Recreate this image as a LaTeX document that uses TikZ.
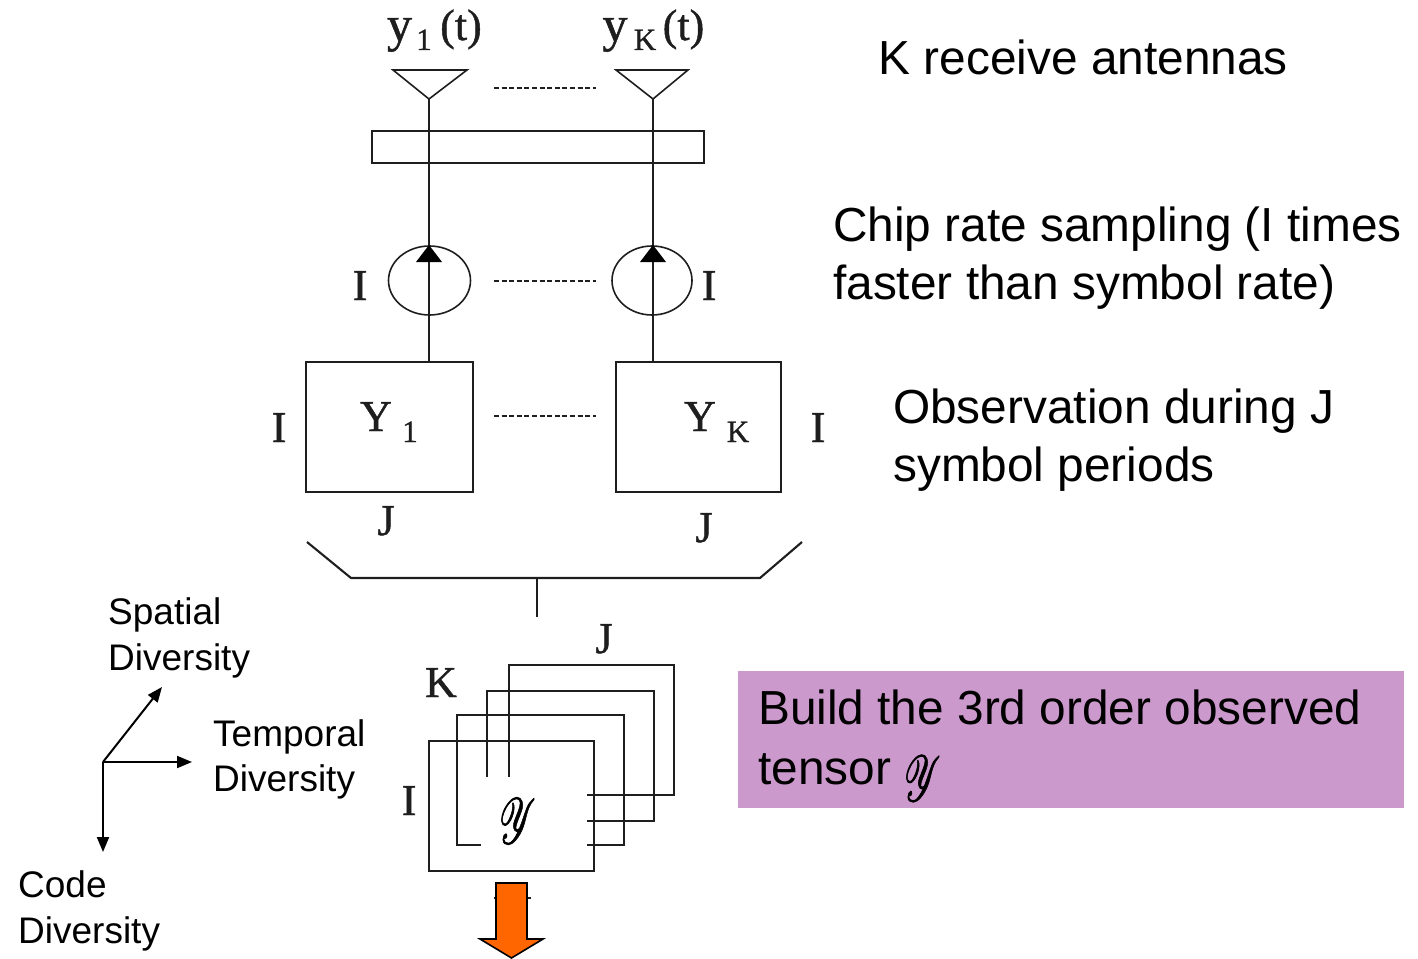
\documentclass[tikz,border=0pt]{standalone}
\usepackage{fontspec}
\usepackage{mathrsfs}
\usepackage{graphicx}
\setmainfont{Liberation Sans}
\newfontfamily\lblfont[FakeBold=1]{Liberation Serif}
\newcommand{\tensorY}{\special{pdf:code 2 Tr 0.35 w}\scalebox{1.45}[2.6]{$\mathscr{Y}$}\special{pdf:code 0 Tr 1 w}}
\usetikzlibrary{arrows.meta,shapes.geometric}
\definecolor{ink}{HTML}{1E1E1E}
\definecolor{purplebox}{HTML}{CC99CC}
\definecolor{orangearrow}{HTML}{FF6600}
\tikzset{
  ln/.style={draw=ink,line width=2.1pt},
  boxn/.style={ln,rectangle,inner sep=0pt,outer sep=0pt,anchor=north west},
  dots/.style={draw=ink,line width=1.6pt,dash pattern=on 5pt off 2.6pt},
  lbl/.style={inner sep=0pt,text=ink,font=\lblfont\fontsize{44}{48}\selectfont},
  lbly/.style={inner sep=0pt,text=ink,font=\lblfont\fontsize{50}{54}\selectfont},
  subl/.style={inner sep=0pt,text=ink,font=\lblfont\fontsize{31}{34}\selectfont},
  big/.style={inner sep=0pt,anchor=west,align=left,text=black,font=\fontsize{47.8}{58}\selectfont},
  small/.style={inner sep=0pt,anchor=west,align=left,text=black,font=\fontsize{37}{45.5}\selectfont},
  axis/.style={draw=black,line width=2pt,-{Triangle[length=15pt,width=12pt]}},
  sampler/.style={draw=ink,line width=1.6pt,ellipse,inner sep=0pt,outer sep=0pt},
  tip/.style={fill=black,draw=none},
}
\begin{document}
\begin{tikzpicture}[x=1pt,y=-1pt]
\useasboundingbox (0,0) rectangle (1418,958);
% purple note
\node[rectangle,fill=purplebox,inner sep=0pt,outer sep=0pt,anchor=north west,minimum width=666pt,minimum height=137pt] (note) at (738,671) {};
% antennas
\coordinate (ant1) at (429,99);
\coordinate (antK) at (653,99);
\draw[ln,line width=1.6pt] (393,70) -- (467,70) -- (ant1) -- cycle;
\draw[ln,line width=1.6pt] (616,70) -- (688,70) -- (antK) -- cycle;
% bar
\node[boxn,minimum width=332pt,minimum height=32pt] (bar) at (372,131) {};
% boxes
\node[boxn,minimum width=167pt,minimum height=130pt] (box1) at (306,362) {};
\node[boxn,minimum width=165pt,minimum height=130pt] (boxK) at (616,362) {};
% samplers
\node[sampler,minimum width=82pt,minimum height=69pt] (s1) at (429.5,280.5) {};
\node[sampler,minimum width=80pt,minimum height=69pt] (sK) at (652,280.5) {};
% vertical feeds
\draw[ln] (ant1) -- (ant1 |- box1.north);
\draw[ln] (antK) -- (antK |- boxK.north);
\coordinate (t1) at (429,245);
\coordinate (tK) at (653,245);
\fill[tip] (t1) -- ++(13,17) -- ++(-26,0) -- cycle;
\fill[tip] (tK) -- ++(13,17) -- ++(-26,0) -- cycle;
% dotted rows
\coordinate (d1a) at (494,88); \coordinate (d1b) at (596,88);
\coordinate (d2a) at (494,281); \coordinate (d2b) at (596,281);
\coordinate (d3a) at (494,416); \coordinate (d3b) at (596,416);
\draw[dots] (d1a) -- (d1b);
\draw[dots] (d2a) -- (d2b);
\draw[dots] (d3a) -- (d3b);
% bracket
\coordinate (b1) at (307,542); \coordinate (b2) at (351,578);
\coordinate (b3) at (760,578); \coordinate (b4) at (802,542);
\coordinate (stemtop) at (537,578); \coordinate (stembot) at (537,617);
\draw[ln] (b1) -- (b2) -- (b3) -- (b4);
\draw[ln] (stemtop) -- (stembot);
% tensor slices
\node[boxn,minimum width=165pt,minimum height=130pt] (t4) at (509,665) {};
\node[boxn,minimum width=167pt,minimum height=130pt] (t3) at (487,691) {};
\node[boxn,minimum width=167pt,minimum height=130pt] (t2) at (457,715) {};
\node[boxn,minimum width=165pt,minimum height=130pt] (t1b) at (429,741) {};
\node[rectangle,fill=white,inner sep=0pt,outer sep=0pt,anchor=north west,minimum width=106pt,minimum height=85pt] (patch) at (481,777) {};
\node[inner sep=0pt,text=black,font=\fontsize{47.8}{58}\selectfont] (ty) at (517.5,821) {\tensorY};
% orange arrow
\draw[draw=ink,line width=1.2pt] (494,898) -- (531,898);
\draw[draw=black,line width=1.6pt,fill=orangearrow] (496,883) -- (527,883) -- (527,939) -- (543,939) -- (511.5,958) -- (480,939) -- (496,939) -- cycle;
% axes
\coordinate (o) at (103,762);
\coordinate (ax1) at (162,687);
\coordinate (ax2) at (192,762);
\coordinate (ax3) at (103,852);
\draw[axis] (o) -- (ax1);
\draw[axis] (o) -- (ax2);
\draw[axis] (o) -- (ax3);
% serif labels
\node[lbly,anchor=base] (y1) at (399.5,41) {y};
\node[subl,anchor=base] (y1s) at (424,50) {1};
\node[lbl,anchor=base] (y1t) at (461,40) {(t)};
\node[lbly,anchor=base] (yK) at (615,41) {y};
\node[subl,anchor=base] (yKs) at (645,50) {K};
\node[lbl,anchor=base] (yKt) at (683.5,40) {(t)};
\node[lbl,anchor=base] (i1) at (360,300) {I};
\node[lbl,anchor=base] (i2) at (709,300) {I};
\node[lbl,anchor=base] (i3) at (279,442) {I};
\node[lbl,anchor=base] (i4) at (818,442) {I};
\node[lbl,anchor=base] (j1) at (386,535) {J};
\node[lbl,anchor=base] (j2) at (704,542) {J};
\node[lbl,anchor=base] (Y1) at (376,431) {Y};
\node[subl,anchor=base] (Y1s) at (410,442) {1};
\node[lbl,anchor=base] (YK) at (700,431) {Y};
\node[subl,anchor=base] (YKs) at (738,442) {K};
\node[lbl,anchor=base] (j3) at (604,653) {J};
\node[lbl,anchor=base] (k3) at (441,697) {K};
\node[lbl,anchor=base] (i5) at (409,815) {I};
% sans texts
\node[big] (tk) at (878.5,57.5) {K receive antennas};
\node[big] (tc) at (833,258) {Chip rate sampling (I times\\faster than symbol rate)};
\node[big] (to) at (893,440) {Observation during J\\symbol periods};
\node[big,font=\fontsize{47.8}{60}\selectfont] (tb) at (758,737) {Build the 3rd order observed\\tensor \smash{\raisebox{-17pt}{\tensorY}}};
\node[small] (ts) at (108,638) {Spatial\\Diversity};
\node[small] (tt) at (213,759.5) {Temporal\\Diversity};
\node[small] (tcd) at (18,911) {Code\\Diversity};
\end{tikzpicture}
\end{document}
